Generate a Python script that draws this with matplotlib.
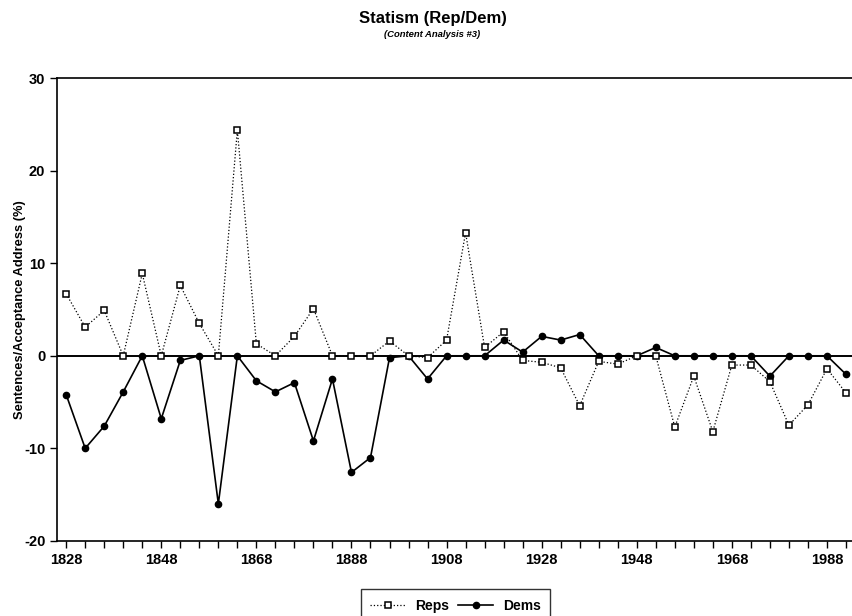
import numpy as np
from matplotlib import pyplot as plt

plt.rcParams['font.family'] = ['Liberation Sans', 'DejaVu Sans']
plt.rcParams['font.weight'] = 'bold'
plt.rcParams['axes.unicode_minus'] = False

years = list(range(1828, 1993, 4))

reps = [6.7, 3.1, 4.9, 0.0, 8.9, 0.0, 7.6, 3.5, 0.0, 24.4,
        1.3, 0.0, 2.1, 5.1, 0.0, 0.0, 0.0, 1.6, 0.0, -0.2,
        1.7, 13.3, 0.9, 2.6, -0.5, -0.7, -1.3, -5.4, -0.6, -0.9,
        0.0, 0.0, -7.7, -2.2, -8.2, -1.0, -1.0, -2.8, -7.5, -5.3,
        -1.4, -4.0]

dems = [-4.2, -10.0, -7.6, -3.9, 0.0, -6.8, -0.5, 0.0, -16.0, 0.0,
        -2.7, -3.9, -2.9, -9.2, -2.5, -12.6, -11.0, -0.2, 0.0, -2.5,
        0.0, 0.0, 0.0, 1.7, 0.4, 2.1, 1.7, 2.3, 0.0, 0.0,
        0.0, 0.9, 0.0, 0.0, 0.0, 0.0, 0.0, -2.2, 0.0, 0.0,
        0.0, -2.0]

yticks = [-20, -10, 0, 10, 20, 30]
xticks_major = list(range(1828, 1989, 20))

fig = plt.figure(figsize=(8.53, 6.16), dpi=100)
ax = fig.add_axes([0.067, 0.122, 0.932, 0.751])

ax.axhline(0, color='black', lw=1.4, zorder=1)

ax.plot(years, reps, color='black', ls=':', lw=0.9, marker='s', ms=4.3,
        mfc='white', mec='black', mew=1.1, label='Reps', zorder=3)
ax.plot(years, dems, color='black', ls='-', lw=1.2, marker='o', ms=4.5,
        mfc='black', mec='black', label='Dems', zorder=2)

ax.set_xlim(1826.1, 1993.3)
ax.set_ylim(-20, 30)
ax.set_xticks(xticks_major)
ax.set_xticks(years, minor=True)
ax.set_yticks(yticks)
ax.tick_params(axis='both', which='both', direction='out', length=5,
               width=1, labelsize=10.5)
for lab in ax.get_xticklabels() + ax.get_yticklabels():
    lab.set_fontweight('bold')

ax.spines['right'].set_visible(False)
for s in ['left', 'bottom', 'top']:
    ax.spines[s].set_linewidth(1.2)

fig.text(0.023, 0.498, 'Sentences/Acceptance Address (%)', rotation=90,
         ha='center', va='center', fontsize=9.3, fontweight='bold')

fig.text(0.508, 0.970, 'Statism (Rep/Dem)', ha='center', va='center',
         fontsize=12, fontweight='bold')
fig.text(0.506, 0.944, '(Content Analysis #3)', ha='center', va='center',
         fontsize=6.8, fontweight='bold', style='italic')

leg = fig.legend(loc='upper center', bbox_to_anchor=(0.534, 0.055), ncol=2,
                 frameon=True, fancybox=False, edgecolor='black',
                 fontsize=10, handlelength=2.5, handletextpad=0.7,
                 columnspacing=0.7, borderpad=0.7)
leg.get_frame().set_linewidth(1.0)
for t in leg.get_texts():
    t.set_fontweight('bold')

fig.savefig('out.png', dpi=100)
